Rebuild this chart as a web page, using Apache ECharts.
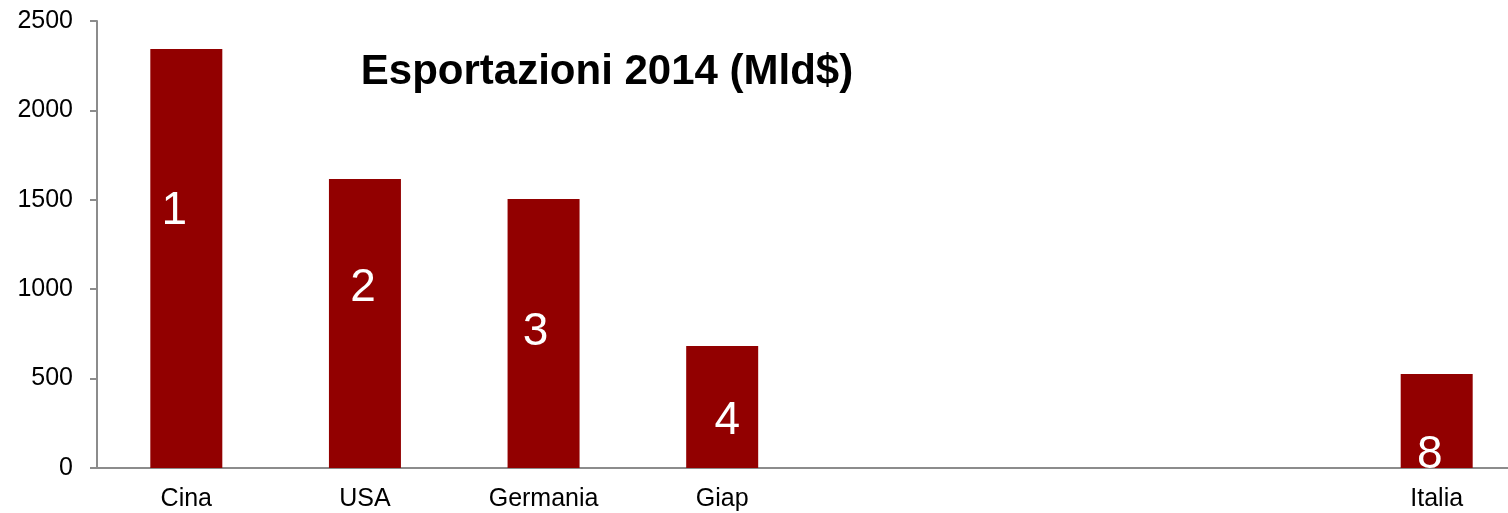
<!DOCTYPE html>
<html>
<head>
<meta charset="utf-8">
<script src="https://cdn.jsdelivr.net/npm/echarts@6/dist/echarts.min.js"></script>
<style>
    html, body { margin: 0; padding: 0; background: #fff; overflow: hidden; width: 1508px; height: 513px; }
    /* the plot runs a little past the right edge of the page */
    #chart { width: 1526px; height: 513px; }
</style>
</head>
<body>
<div id="chart"></div>
<script>
'use strict';

// countries (empty slots stand for ranks 5-7, not shown)
var categories = ['Cina', 'USA', 'Germania', 'Giap', '', '', '', 'Italia'];
// exports 2014, billion $
var exportValues = [2343, 1616, 1504, 682, null, null, null, 526];
// world rank written inside each bar
var rankLabels = ['1', '2', '3', '4', '', '', '', '8'];
var yTicks = { min: 0, max: 2500, interval: 500 };

// label placement inside the bars (style only)
var labelOffsets = [[-12, -47], [-2, -35], [-8, -1], [5, 14], [0, 0], [0, 0], [0, 0], [-7, 34]];

var chart = echarts.init(document.getElementById('chart'));

var barData = exportValues.map(function (v, i) {
    return {
        value: v,
        label: { formatter: rankLabels[i], offset: labelOffsets[i] }
    };
});

var options = {
    animation: false,
    backgroundColor: '#ffffff',
    title: {
        text: 'Esportazioni 2014 (Mld$)',
        left: 602,
        top: 46,
        textAlign: 'center',
        textStyle: {
            fontFamily: 'Liberation Sans, Arial, sans-serif',
            fontSize: 42,
            fontWeight: 'bold',
            color: '#000'
        }
    },
    grid: { left: 97, right: 0, top: 21, bottom: 45, containLabel: false },
    xAxis: {
        type: 'category',
        data: categories,
        axisLine: { show: true, lineStyle: { color: '#8c8c8c', width: 2 } },
        axisTick: { show: false },
        axisLabel: {
            interval: 0,
            margin: 19,
            color: '#000',
            fontSize: 25,
            fontFamily: 'Liberation Sans, Arial, sans-serif'
        }
    },
    yAxis: {
        type: 'value',
        min: yTicks.min,
        max: yTicks.max,
        interval: yTicks.interval,
        axisLine: { show: true, lineStyle: { color: '#8c8c8c', width: 2 } },
        axisTick: { show: true, length: 7, lineStyle: { color: '#8c8c8c', width: 2 } },
        splitLine: { show: false },
        axisLabel: {
            margin: 24,
            color: '#000',
            fontSize: 25,
            fontFamily: 'Liberation Sans, Arial, sans-serif',
            formatter: function (v) { return String(v); }
        }
    },
    series: [{
        type: 'bar',
        data: barData,
        barWidth: 72,
        itemStyle: { color: '#920000' },
        label: {
            show: true,
            position: 'inside',
            color: '#fff',
            fontSize: 46,
            fontFamily: 'Liberation Sans, Arial, sans-serif'
        }
    }]
};

chart.setOption(options);
</script>
</body>
</html>
